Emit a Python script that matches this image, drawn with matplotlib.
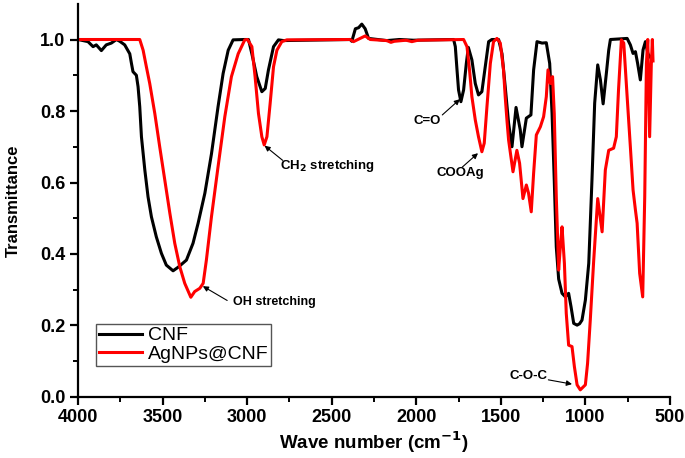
import matplotlib
matplotlib.use("Agg")
import matplotlib.pyplot as plt

# ---------------------------------
# FTIR spectra
# ---------------------------------
wn_cnf = [4000, 3941, 3911, 3892, 3862, 3833, 3803, 3773, 3753, 3724, 3694, 3684, 3675, 3655,
          3645, 3635, 3625, 3605, 3586, 3566, 3537, 3507, 3478, 3438, 3408, 3359, 3320, 3290,
          3250, 3211, 3172, 3142, 3112, 3083, 3014, 2992, 2972, 2943, 2913, 2893, 2874, 2844,
          2815, 2785, 2391, 2381, 2360, 2341, 2322, 2302, 2282, 2174, 2100, 2018, 1779, 1769,
          1759, 1750, 1736, 1720, 1704, 1692, 1671, 1651, 1632, 1612, 1592, 1572, 1553, 1513,
          1493, 1474, 1454, 1434, 1410, 1385, 1375, 1349, 1322, 1306, 1286, 1256, 1231, 1211,
          1197, 1184, 1172, 1158, 1138, 1118, 1099, 1085, 1069, 1049, 1034, 1020, 1000, 980,
          961, 945, 927, 911, 895, 876, 862, 852, 753, 734, 718, 704, 691, 675, 659, 645, 630, 615]
t_cnf = [1.0, 0.994, 0.98, 0.985, 0.969, 0.985, 0.99, 1.0, 0.995, 0.985, 0.96, 0.933, 0.91, 0.90,
         0.868, 0.812, 0.728, 0.635, 0.56, 0.504, 0.448, 0.402, 0.369, 0.353, 0.363, 0.383, 0.43, 0.486,
         0.57, 0.68, 0.812, 0.905, 0.97, 0.999, 1.0, 1.0, 0.96, 0.896, 0.854, 0.863, 0.915, 0.98,
         0.999, 0.997, 1.0, 0.995, 1.03, 1.033, 1.043, 1.03, 1.003, 0.997, 1.0, 0.998, 1.0, 0.98,
         0.915, 0.859, 0.826, 0.859, 0.933, 0.978, 0.943, 0.877, 0.845, 0.854, 0.924, 0.994, 1.0, 1.0,
         0.96, 0.868, 0.766, 0.70, 0.81, 0.747, 0.70, 0.78, 0.789, 0.915, 0.994, 0.99, 0.991, 0.933,
         0.793, 0.607, 0.42, 0.33, 0.29, 0.28, 0.29, 0.253, 0.206, 0.201, 0.205, 0.215, 0.271, 0.374,
         0.607, 0.822, 0.929, 0.887, 0.82, 0.905, 0.97, 1.0, 1.003, 0.985, 0.961, 0.966, 0.933, 0.887,
         0.971, 0.994, 0.96, 0.95]

wn_ag = [4000, 3635, 3615, 3596, 3576, 3546, 3517, 3487, 3457, 3428, 3398, 3369, 3333, 3310,
         3280, 3260, 3241, 3211, 3172, 3132, 3093, 3053, 3014, 2998, 2972, 2953, 2933, 2913,
         2899, 2883, 2864, 2844, 2824, 2795, 2765, 2391, 2371, 2332, 2302, 2272, 2174, 2150,
         2130, 2060, 2026, 1990, 1720, 1700, 1685, 1671, 1651, 1632, 1612, 1598, 1582, 1562,
         1543, 1523, 1503, 1484, 1474, 1463, 1454, 1428, 1405, 1389, 1369, 1349, 1336, 1320,
         1306, 1290, 1266, 1247, 1231, 1221, 1207, 1194, 1184, 1172, 1158, 1148, 1138, 1124,
         1113, 1099, 1079, 1065, 1049, 1030, 1000, 987, 971, 951, 927, 901, 882, 862, 833, 817,
         804, 787, 773, 753, 734, 718, 704, 694, 679, 661, 649, 639, 631, 620, 610, 604, 600]
t_ag = [1.0, 1.0, 0.97, 0.924, 0.877, 0.793, 0.70, 0.607, 0.514, 0.43, 0.364, 0.318, 0.279, 0.295,
        0.304, 0.318, 0.383, 0.504, 0.644, 0.784, 0.896, 0.96, 0.999, 1.0, 0.98, 0.896, 0.793, 0.728,
        0.705, 0.728, 0.821, 0.924, 0.97, 0.994, 0.999, 1.0, 0.994, 1.003, 1.01, 1.0, 0.997, 0.992,
        0.995, 0.998, 0.994, 0.998, 1.0, 0.98, 0.915, 0.84, 0.775, 0.728, 0.686, 0.71, 0.812, 0.933,
        0.994, 1.003, 0.99, 0.915, 0.84, 0.77, 0.719, 0.63, 0.69, 0.654, 0.555, 0.593, 0.57, 0.518,
        0.626, 0.733, 0.756, 0.784, 0.84, 0.915, 0.877, 0.896, 0.793, 0.56, 0.355, 0.42, 0.476, 0.374,
        0.234, 0.145, 0.141, 0.085, 0.034, 0.02, 0.034, 0.094, 0.215, 0.38, 0.555, 0.462, 0.635, 0.69,
        0.696, 0.728, 0.859, 0.999, 0.99, 0.84, 0.70, 0.579, 0.523, 0.486, 0.346, 0.28, 0.56, 0.933,
        1.0, 0.728, 0.933, 1.0, 0.94]

x_ticks = [4000, 3500, 3000, 2500, 2000, 1500, 1000, 500]
y_ticks = [0.0, 0.2, 0.4, 0.6, 0.8, 1.0]

plt.rcParams['font.family'] = ['Liberation Sans', 'DejaVu Sans']

fig = plt.figure(figsize=(6.85, 4.58), dpi=100)
ax = fig.add_axes([0.1139, 0.1332, 0.8641, 0.8586])

ax.plot(wn_cnf, t_cnf, color='black', lw=2.2, label='CNF')
ax.plot(wn_ag, t_ag, color='#ff0000', lw=2.2, label='AgNPs@CNF')

ax.set_xlim(4000, 500)
ax.set_ylim(0, 1.1)
ax.set_xticks(x_ticks)
ax.set_xticks([3750, 3250, 2750, 2250, 1750, 1250, 750], minor=True)
ax.set_yticks(y_ticks)
ax.set_yticks([0.1, 0.3, 0.5, 0.7, 0.9], minor=True)
ax.set_yticklabels(['%.1f' % v for v in y_ticks])

for side in ['top', 'right']:
    ax.spines[side].set_visible(False)
for side in ['left', 'bottom']:
    ax.spines[side].set_linewidth(1.6)

ax.tick_params(which='major', direction='out', length=6, width=1.6, labelsize=13, pad=3)
ax.tick_params(which='minor', direction='out', length=3.5, width=1.4)
for lab in ax.get_xticklabels() + ax.get_yticklabels():
    lab.set_fontweight('bold')

ax.set_xlabel('Wave number (cm$^{\\mathbf{-1}}$)', fontsize=13.5, fontweight='bold', labelpad=2)
ax.set_ylabel('Transmittance', fontsize=12, fontweight='bold', labelpad=14)

# peak labels
arrow = dict(arrowstyle='-|>', color='black', lw=0.8, mutation_scale=8, shrinkA=0, shrinkB=0)
ax.annotate('', xy=(3262, 0.31), xytext=(3118, 0.27), arrowprops=arrow)
ax.text(3085, 0.266, 'OH stretching', fontsize=9, fontweight='bold', ha='left', va='center')
ax.annotate('', xy=(2897, 0.703), xytext=(2790, 0.662), arrowprops=arrow)
ax.text(2805, 0.646, 'CH$_\\mathbf{2}$ stretching', fontsize=9.5, fontweight='bold', ha='left', va='center')
ax.annotate('', xy=(1742, 0.833), xytext=(1846, 0.789), arrowprops=arrow)
ax.text(1935, 0.772, 'C=O', fontsize=9.5, fontweight='bold', ha='center', va='center')
ax.annotate('', xy=(1635, 0.682), xytext=(1728, 0.643), arrowprops=arrow)
ax.text(1740, 0.627, 'COOAg', fontsize=9.5, fontweight='bold', ha='center', va='center')
ax.annotate('', xy=(1079, 0.036), xytext=(1219, 0.048), arrowprops=arrow)
ax.text(1337, 0.059, 'C-O-C', fontsize=9.5, fontweight='bold', ha='center', va='center')

leg = ax.legend(loc='upper left', bbox_to_anchor=(0.0304, 0.1857), fontsize=14,
                fancybox=False, framealpha=1, edgecolor='#555555', borderpad=0.15,
                labelspacing=0.05, handlelength=2.2, handletextpad=0.3, borderaxespad=0)
leg.get_frame().set_linewidth(1.0)

fig.savefig('out.png', dpi=100)
